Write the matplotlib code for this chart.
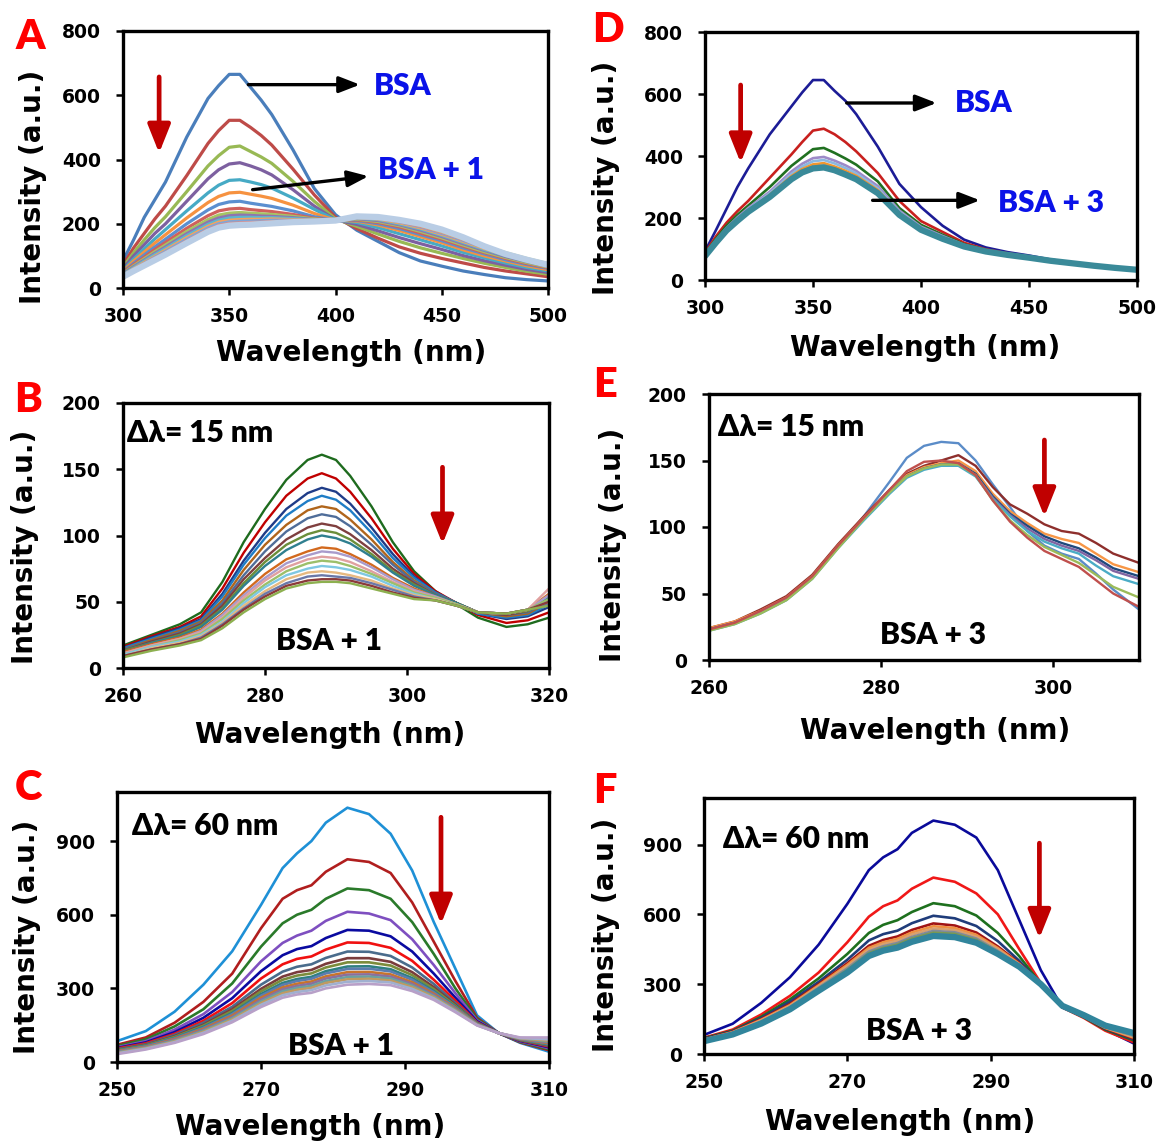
import matplotlib
matplotlib.use('Agg')
import matplotlib.pyplot as plt

plt.rcParams['font.family'] = ['DejaVu Sans']
plt.rcParams['font.weight'] = 'bold'
plt.rcParams['axes.labelweight'] = 'bold'

# ---------------- data ----------------
# A: BSA + 1, excitation 280 nm
wl_a = [300, 305, 310, 315, 320, 330, 340, 345, 350, 355, 360, 365, 370, 380, 390, 400,
        410, 420, 430, 440, 450, 460, 470, 480, 490, 500]
curves_a = [
    [85, 150, 220, 275, 330, 470, 590, 630, 665, 665, 625, 585, 540, 430, 310, 228, 180, 145, 110, 84, 68, 53, 42, 32, 26, 22],
    [72, 125, 170, 215, 255, 350, 450, 490, 522, 522, 500, 475, 445, 370, 290, 220, 185, 155, 128, 108, 92, 78, 64, 53, 44, 35],
    [65, 110, 150, 188, 222, 300, 380, 412, 438, 442, 425, 408, 388, 332, 270, 215, 192, 168, 145, 125, 108, 92, 77, 64, 52, 43],
    [60, 100, 135, 170, 200, 270, 340, 368, 386, 390, 380, 368, 352, 306, 255, 212, 198, 178, 157, 138, 120, 101, 85, 71, 58, 48],
    [56, 90, 122, 153, 182, 240, 296, 320, 335, 337, 330, 322, 311, 280, 245, 212, 204, 188, 169, 150, 131, 111, 94, 78, 64, 53],
    [53, 84, 112, 140, 166, 218, 266, 285, 296, 298, 292, 286, 279, 258, 232, 211, 208, 196, 179, 160, 141, 119, 100, 84, 69, 57],
    [50, 77, 103, 128, 152, 200, 243, 260, 268, 270, 264, 259, 254, 240, 222, 210, 210, 200, 185, 166, 147, 125, 106, 88, 73, 61],
    [48, 73, 96, 120, 142, 186, 225, 240, 246, 248, 244, 241, 238, 229, 217, 210, 212, 204, 190, 171, 152, 130, 110, 92, 76, 63],
    [46, 69, 91, 113, 134, 176, 213, 227, 233, 235, 233, 231, 229, 223, 215, 210, 214, 207, 194, 176, 156, 134, 113, 95, 79, 65],
    [44, 66, 87, 108, 128, 169, 205, 218, 225, 227, 226, 224, 223, 219, 213, 210, 216, 210, 197, 180, 160, 138, 117, 98, 82, 67],
    [42, 63, 84, 104, 123, 163, 198, 211, 218, 220, 220, 219, 219, 216, 212, 210, 218, 213, 200, 184, 164, 142, 120, 101, 84, 69],
    [40, 60, 80, 99, 118, 157, 192, 205, 211, 213, 214, 214, 215, 213, 211, 210, 219, 215, 203, 187, 167, 145, 123, 103, 86, 71],
    [39, 58, 77, 96, 114, 152, 187, 200, 206, 208, 209, 210, 211, 211, 210, 210, 220, 217, 206, 190, 170, 148, 126, 106, 88, 73],
    [38, 57, 75, 93, 110, 147, 182, 195, 201, 203, 204, 205, 207, 209, 209, 210, 221, 219, 208, 192, 173, 151, 128, 108, 90, 74],
    [37, 55, 73, 90, 107, 143, 178, 191, 197, 199, 200, 202, 204, 207, 208, 210, 222, 220, 210, 195, 176, 153, 130, 110, 92, 76],
    [35, 53, 70, 87, 104, 140, 175, 188, 194, 196, 197, 199, 201, 205, 207, 210, 223, 221, 212, 200, 182, 158, 130, 106, 88, 72],
]
colors_a = ['#4A7EBB', '#BE4B48', '#98B954', '#7D60A0', '#46AAC5', '#F69240', '#5B8FD0', '#D0605C',
            '#A6C463', '#8E74B0', '#5DB6CE', '#F7A25E', '#7EA6D8', '#D98C8A', '#B6D08A', '#B9CDE5']

# D: BSA + 3, excitation 280 nm
wl_d = wl_a
curves_d = [
    [92, 160, 230, 300, 360, 470, 560, 605, 645, 645, 610, 578, 535, 430, 310, 235, 175, 130, 105, 90, 79, 66, 56, 47, 40, 33],
    [88, 140, 185, 222, 255, 330, 405, 445, 482, 488, 470, 445, 415, 345, 255, 190, 155, 120, 99, 86, 75, 63, 54, 46, 39, 33],
    [85, 132, 175, 210, 240, 300, 368, 395, 422, 426, 410, 392, 372, 318, 232, 178, 146, 115, 97, 84, 74, 63, 54, 46, 39, 33],
    [82, 127, 168, 202, 232, 285, 350, 375, 393, 397, 385, 370, 352, 303, 224, 172, 142, 113, 95, 83, 73, 63, 54, 46, 39, 33],
    [80, 124, 165, 198, 228, 280, 342, 366, 383, 387, 376, 361, 344, 296, 220, 169, 139, 111, 94, 82, 73, 63, 54, 46, 39, 33],
    [79, 122, 163, 195, 224, 275, 335, 358, 373, 377, 366, 352, 336, 290, 216, 166, 137, 110, 93, 81, 72, 62, 54, 46, 39, 33],
    [78, 121, 162, 193, 222, 272, 330, 352, 365, 369, 360, 346, 330, 285, 213, 164, 135, 109, 92, 81, 72, 62, 54, 46, 39, 33],
    [77, 120, 160, 191, 220, 268, 325, 347, 360, 363, 354, 340, 325, 280, 210, 162, 133, 108, 92, 81, 72, 62, 54, 46, 39, 33],
]
colors_d = ['#1C1C96', '#C8201E', '#207020', '#9D8AC8', '#8CB8E0', '#F0962E', '#7F8C8D', '#3A8A99']

# B: BSA + 1, synchronous, delta 15 nm
wl_b = [260, 264, 268, 271, 274, 277, 280, 283, 286, 288, 290, 292, 295, 298, 301, 304, 307, 310, 314, 317, 320]
curves_b = [
    [17, 25, 33, 42, 65, 95, 120, 142, 157, 161, 157, 145, 122, 95, 73, 58, 48, 38, 31, 33, 38],
    [16, 24, 31, 39, 60, 87, 110, 130, 143, 147, 143, 133, 113, 90, 71, 58, 49, 40, 34, 36, 42],
    [15, 23, 30, 37, 56, 81, 102, 120, 132, 136, 133, 124, 106, 86, 69, 57, 49, 41, 37, 39, 46],
    [15, 22, 29, 36, 54, 78, 98, 115, 126, 130, 127, 119, 102, 83, 68, 57, 49, 41, 38, 40, 48],
    [14, 21, 28, 35, 51, 74, 93, 108, 119, 122, 120, 112, 97, 80, 66, 56, 49, 42, 39, 41, 50],
    [14, 20, 27, 34, 49, 70, 88, 103, 113, 116, 114, 107, 93, 78, 65, 56, 49, 42, 40, 42, 51],
    [13, 20, 26, 33, 47, 67, 83, 97, 106, 109, 107, 101, 89, 75, 64, 55, 49, 42, 40, 43, 52],
    [13, 19, 25, 32, 45, 64, 80, 93, 101, 104, 102, 97, 86, 73, 63, 55, 49, 42, 41, 43, 53],
    [12, 19, 24, 31, 44, 62, 77, 89, 97, 100, 98, 94, 84, 72, 62, 55, 49, 42, 41, 44, 54],
    [12, 18, 23, 29, 41, 57, 71, 82, 88, 91, 90, 86, 78, 68, 60, 54, 48, 42, 41, 44, 56],
    [11, 17, 22, 28, 40, 55, 68, 79, 85, 88, 87, 84, 76, 67, 59, 54, 48, 42, 41, 44, 55],
    [11, 17, 22, 27, 38, 53, 66, 76, 82, 84, 83, 80, 73, 65, 58, 53, 48, 42, 41, 44, 60],
    [10, 16, 21, 26, 37, 51, 63, 73, 79, 81, 80, 77, 71, 64, 57, 53, 48, 42, 41, 44, 52],
    [10, 16, 20, 25, 35, 49, 61, 70, 75, 77, 76, 74, 69, 62, 56, 52, 47, 42, 41, 44, 50],
    [9, 15, 19, 24, 34, 47, 58, 67, 72, 73, 72, 70, 66, 60, 55, 52, 47, 42, 41, 44, 49],
    [9, 14, 18, 23, 33, 45, 56, 64, 69, 70, 69, 68, 64, 59, 54, 51, 47, 42, 41, 44, 48],
    [9, 14, 18, 22, 32, 44, 54, 62, 66, 67, 67, 66, 62, 57, 53, 51, 47, 42, 41, 44, 50],
    [8, 13, 17, 21, 30, 42, 52, 60, 64, 65, 65, 64, 60, 56, 52, 51, 47, 42, 41, 44, 47],
]
colors_b = ['#1E6B1E', '#C00000', '#1F3C88', '#1F7DC6', '#B0651B', '#4F6D99', '#7F3F3F', '#6B8E3A', '#2F7F8F',
            '#D2691E', '#A99BCB', '#E0A0A0', '#9CBF6A', '#7EC8E3', '#E6B980', '#6A78A8', '#8B3A3A', '#8DB050']

# E: BSA + 3, synchronous, delta 15 nm
wl_e = [260, 263, 266, 269, 272, 275, 278, 281, 283, 285, 287, 289, 291, 293, 295, 297, 299, 301, 303, 305, 307, 310]
curves_e = [
    [23, 28, 37, 47, 63, 85, 108, 134, 152, 161, 164, 163, 150, 132, 115, 97, 86, 80, 76, 65, 53, 38],
    [24, 29, 38, 48, 64, 87, 108, 128, 140, 146, 150, 154, 146, 130, 117, 110, 102, 97, 95, 88, 80, 73],
    [24, 29, 37, 47, 63, 86, 107, 127, 139, 145, 148, 150, 142, 125, 112, 103, 95, 91, 88, 80, 72, 66],
    [23, 28, 36, 46, 62, 85, 106, 126, 138, 144, 147, 148, 140, 123, 110, 101, 93, 88, 84, 77, 69, 63],
    [23, 28, 36, 46, 62, 85, 106, 126, 138, 144, 147, 147, 139, 122, 109, 99, 91, 86, 82, 75, 67, 61],
    [22, 27, 35, 45, 61, 84, 105, 125, 137, 143, 146, 146, 138, 121, 108, 97, 89, 84, 80, 71, 63, 57],
    [22, 27, 35, 45, 61, 84, 106, 126, 138, 144, 147, 147, 139, 120, 105, 94, 85, 79, 73, 64, 55, 47],
    [23, 28, 37, 47, 63, 86, 107, 128, 142, 149, 150, 148, 139, 120, 104, 92, 82, 76, 70, 60, 50, 40],
]
colors_e = ['#5B8CC8', '#8E2F2C', '#F79646', '#1F497D', '#8064A2', '#4BACC6', '#9BBB59', '#C0504D']

# C: BSA + 1, synchronous, delta 60 nm
wl_c = [250, 254, 258, 262, 266, 270, 273, 275, 277, 279, 282, 285, 288, 291, 294, 297, 300, 303, 306, 310]
curves_c = [
    [85, 126, 205, 315, 451, 640, 790, 850, 900, 975, 1036, 1010, 930, 780, 570, 380, 190, 118, 78, 42],
    [70, 100, 160, 245, 360, 545, 665, 700, 720, 775, 826, 815, 770, 650, 490, 330, 180, 118, 80, 48],
    [65, 92, 145, 215, 320, 470, 565, 600, 620, 665, 707, 700, 665, 570, 440, 300, 175, 118, 82, 52],
    [60, 85, 132, 195, 285, 410, 485, 515, 535, 575, 612, 605, 578, 500, 395, 280, 170, 118, 84, 56],
    [57, 80, 122, 180, 260, 370, 435, 460, 472, 505, 538, 535, 512, 450, 360, 262, 166, 118, 86, 60],
    [55, 76, 115, 168, 240, 340, 398, 420, 430, 458, 487, 485, 465, 412, 335, 250, 162, 118, 88, 63],
    [52, 72, 110, 160, 225, 315, 368, 388, 398, 424, 450, 449, 432, 385, 318, 240, 160, 118, 89, 66],
    [50, 70, 105, 152, 215, 298, 348, 366, 375, 400, 423, 423, 408, 366, 305, 233, 158, 118, 90, 68],
    [48, 68, 102, 148, 208, 288, 335, 352, 361, 385, 406, 406, 393, 354, 297, 229, 157, 118, 91, 70],
    [46, 66, 98, 143, 200, 277, 322, 338, 347, 370, 389, 390, 378, 342, 289, 225, 156, 118, 92, 72],
    [45, 64, 96, 139, 195, 270, 314, 330, 339, 361, 379, 380, 369, 335, 284, 222, 155, 118, 93, 74],
    [43, 62, 93, 135, 189, 262, 304, 319, 328, 349, 366, 367, 357, 325, 278, 219, 154, 118, 94, 77],
    [41, 60, 90, 131, 183, 254, 296, 310, 319, 340, 356, 357, 348, 318, 273, 216, 153, 118, 95, 80],
    [39, 58, 87, 127, 178, 247, 288, 302, 310, 330, 346, 348, 340, 311, 268, 213, 152, 118, 96, 83],
    [37, 56, 84, 123, 173, 240, 280, 294, 302, 322, 337, 339, 332, 305, 264, 210, 151, 118, 97, 87],
    [35, 54, 81, 119, 168, 233, 272, 285, 293, 312, 327, 330, 324, 298, 259, 207, 150, 118, 98, 92],
    [32, 51, 78, 114, 162, 224, 262, 275, 282, 300, 315, 318, 313, 289, 253, 203, 149, 118, 100, 100],
]
colors_c = ['#1E90D6', '#B01E1E', '#2A7A2A', '#7E4FC0', '#0A0AA0', '#F01010', '#4A6C8C', '#7A3C3C', '#7C8C3C',
            '#2F8080', '#5B7DB0', '#C8742C', '#8C6E9C', '#6AA0A0', '#C09A60', '#A0B0D0', '#B8A0C8']

# F: BSA + 3, synchronous, delta 60 nm
wl_f = wl_c
curves_f = [
    [82, 130, 220, 330, 470, 645, 790, 845, 880, 950, 1003, 985, 930, 790, 575, 360, 200, 160, 105, 45],
    [70, 105, 170, 250, 350, 480, 590, 635, 660, 710, 758, 740, 690, 600, 450, 305, 200, 155, 100, 50],
    [68, 100, 160, 235, 325, 430, 520, 555, 575, 610, 648, 635, 595, 520, 420, 300, 202, 158, 105, 58],
    [66, 98, 155, 225, 310, 405, 488, 515, 530, 562, 594, 583, 550, 485, 400, 300, 203, 160, 108, 62],
    [64, 96, 150, 215, 300, 390, 465, 490, 505, 533, 561, 552, 522, 462, 390, 300, 204, 161, 110, 66],
    [62, 94, 147, 210, 295, 383, 456, 480, 495, 522, 549, 541, 512, 455, 387, 300, 204, 162, 112, 70],
    [60, 92, 144, 206, 290, 376, 448, 472, 486, 513, 539, 532, 504, 449, 384, 300, 205, 163, 114, 74],
    [58, 90, 140, 202, 285, 368, 440, 463, 477, 503, 529, 523, 496, 443, 381, 300, 205, 164, 116, 78],
    [57, 88, 137, 198, 280, 361, 433, 456, 470, 496, 521, 516, 490, 438, 379, 300, 206, 165, 118, 82],
    [56, 86, 134, 195, 276, 355, 427, 450, 463, 489, 514, 509, 484, 434, 377, 300, 206, 166, 120, 86],
    [55, 84, 131, 192, 272, 350, 421, 444, 457, 482, 507, 502, 478, 430, 375, 300, 207, 167, 122, 90],
]
colors_f = ['#0A0A9A', '#F01818', '#1E701E', '#1F3C7A', '#A01414', '#F09040', '#D8A070', '#808A9A',
            '#7A9A50', '#7A6AA0', '#31859C']

# ---------------- figure ----------------
W, H = 1159, 1144
fig = plt.figure(figsize=(W / 100, H / 100), dpi=100)
ANN = ['Lato', 'DejaVu Sans']
RED = '#C00000'
BLUE = '#0A12E8'
FS = 21.5


def panel(px, xs, curves, colors, lw, xlim, ylim, xticks, yticks, xlab, ylab, thick_last=False):
    l, r, t, b = px
    ax = fig.add_axes([l / W, 1 - b / H, (r - l) / W, (b - t) / H])
    for i, (ys, c) in enumerate(zip(curves, colors)):
        w = 4.5 if (thick_last and i == len(curves) - 1) else lw
        ax.plot(xs, ys, color=c, lw=w, solid_joinstyle='round', solid_capstyle='round')
    ax.set_xlim(xlim)
    ax.set_ylim(ylim)
    ax.set_xticks(xticks)
    ax.set_yticks(yticks)
    ax.tick_params(direction='out', length=5, width=1.8, labelsize=13.5)
    ax.tick_params(axis='x', pad=9)
    ax.tick_params(axis='y', pad=11)
    for lab in ax.get_xticklabels() + ax.get_yticklabels():
        lab.set_fontweight('bold')
    for s in ax.spines.values():
        s.set_linewidth(2.4)
    ax.set_xlabel('Wavelength (nm)', fontsize=20, fontweight='bold', va='center')
    ax.xaxis.set_label_coords((xlab[0] - l) / (r - l), (b - xlab[1]) / (b - t))
    ax.set_ylabel('Intensity (a.u.)', fontsize=20, fontweight='bold', va='center')
    ax.yaxis.set_label_coords((ylab[0] - l) / (r - l), (b - ylab[1]) / (b - t))
    return ax


def down_arrow(ax, x, y0, y1):
    ax.annotate('', xy=(x, y1), xytext=(x, y0),
                arrowprops=dict(arrowstyle='-|>,head_width=0.38,head_length=0.95', color=RED,
                                lw=3.4, mutation_scale=18, shrinkA=0, shrinkB=0))


def black_arrow(ax, p0, p1):
    ax.annotate('', xy=p1, xytext=p0,
                arrowprops=dict(arrowstyle='-|>,head_width=0.35,head_length=0.9', color='black',
                                lw=2.4, mutation_scale=14, shrinkA=0, shrinkB=0))


def letter(x, y, s):
    fig.text(x / W, 1 - y / H, s, color='#FF0000', fontsize=30, fontweight='heavy',
             family=ANN, ha='center', va='center')


def note(ax, x, y, s, color='black', ha='left'):
    ax.text(x, y, s, color=color, fontsize=FS, fontweight='heavy', family=ANN, va='center', ha=ha)


# A
ax = panel((123, 548, 31, 288), wl_a, curves_a, colors_a, 2.3, (300, 500), (0, 800),
           [300, 350, 400, 450, 500], [0, 200, 400, 600, 800], (351, 353), (33, 187), thick_last=True)
down_arrow(ax, 317, 657, 420)
black_arrow(ax, (359, 633), (411.5, 633))
black_arrow(ax, (361, 306), (415.5, 348))
note(ax, 418, 630, 'BSA', BLUE)
note(ax, 420, 366, 'BSA + 1', BLUE)
letter(30, 37, 'A')

# D
ax = panel((705, 1137, 32, 280), wl_d, curves_d, colors_d, 1.9, (300, 500), (0, 800),
           [300, 350, 400, 450, 500], [0, 200, 400, 600, 800], (925, 348), (606, 178), thick_last=True)
down_arrow(ax, 316.5, 629, 378)
black_arrow(ax, (365.6, 571), (407.2, 571))
black_arrow(ax, (377.6, 257), (427.3, 257))
note(ax, 415.5, 572, 'BSA', BLUE)
note(ax, 435.5, 250, 'BSA + 3', BLUE)
letter(608, 30, 'D')

# B
ax = panel((123, 549, 403, 668), wl_b, curves_b, colors_b, 1.7, (260, 320), (0, 200),
           [260, 280, 300, 320], [0, 50, 100, 150, 200], (330, 735), (25, 547))
down_arrow(ax, 305, 151.5, 93.6)
note(ax, 260.6, 177.4, 'Δλ= 15 nm')
note(ax, 289, 20, 'BSA + 1', ha='center')
letter(28, 400, 'B')

# E
ax = panel((709, 1139, 394, 660), wl_e, curves_e, colors_e, 1.7, (260, 310), (0, 200),
           [260, 280, 300], [0, 50, 100, 150, 200], (935, 731), (613, 545))
down_arrow(ax, 299, 165.4, 107.8)
note(ax, 261, 175.4, 'Δλ= 15 nm')
note(ax, 286.1, 18.8, 'BSA + 3', ha='center')
letter(605, 385, 'E')

# C
ax = panel((117, 549, 792, 1062), wl_c, curves_c, colors_c, 1.9, (250, 310), (0, 1100),
           [250, 270, 290, 310], [0, 300, 600, 900], (310, 1127), (27, 937))
down_arrow(ax, 295, 997, 562)
note(ax, 252.1, 960, 'Δλ= 60 nm')
note(ax, 281.1, 64, 'BSA + 1', ha='center')
letter(28, 788, 'C')

# F
ax = panel((704, 1134, 798, 1054), wl_f, curves_f, colors_f, 1.9, (250, 310), (0, 1100),
           [250, 270, 290, 310], [0, 300, 600, 900], (900, 1122), (606, 935), thick_last=True)
down_arrow(ax, 296.8, 906, 497)
note(ax, 252.7, 924, 'Δλ= 60 nm')
note(ax, 280, 100, 'BSA + 3', ha='center')
letter(605, 791, 'F')

fig.savefig('out.png', dpi=100)
